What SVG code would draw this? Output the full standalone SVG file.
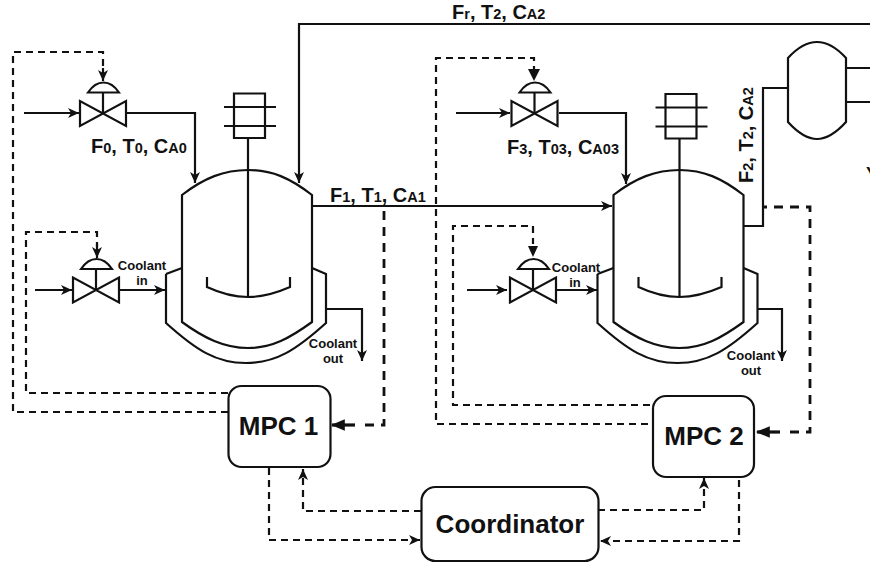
<svg xmlns="http://www.w3.org/2000/svg" width="870" height="569" viewBox="0 0 870 569">
<style>
text{font-family:"Liberation Sans",Arial,sans-serif;font-weight:700;fill:#111}
.lab{font-size:20px}
.sub{font-size:14.500px}
.cool{font-size:13px;text-anchor:middle}
.big{font-size:26px;text-anchor:middle}
.s{fill:none;stroke:#111;stroke-width:2.2}
.th{fill:none;stroke:#111;stroke-width:3.2}
.w{fill:#fff;stroke:#111;stroke-width:2.2}
.d{fill:none;stroke:#111;stroke-width:2.2;stroke-dasharray:7 5}
.d2{fill:none;stroke:#111;stroke-width:2.8;stroke-dasharray:9 7}
.ar{fill:#111;stroke:none}
</style>
<defs>
<marker id="a" viewBox="0 0 12 10" refX="11" refY="5" markerWidth="12" markerHeight="10" markerUnits="userSpaceOnUse" orient="auto"><path d="M0 0L11 5L0 10L3 5Z" fill="#111"/></marker>
<marker id="b" viewBox="0 0 12 10" refX="11" refY="5" markerWidth="14" markerHeight="12" markerUnits="userSpaceOnUse" orient="auto"><path d="M0 0L12 5L0 10Z" fill="#111"/></marker>
<g id="valve"><path class="w" d="M-23 -12.500V12.500L23 -12.500V12.500Z"/><path class="s" d="M0 0V-21M-15 -21H16C12 -27 6 -31 .5 -31C-5 -31 -11 -27 -15 -21Z"/></g>
<g id="reactor"><path class="s" d="M-16 104V153C14 180 34 193 64 193C94 193 114 180 144 153V104L130 98"/><path class="s" d="M-16 104L0 98"/><path class="s" d="M0 25V152C22 168 42 178 66 178C90 178 108 168 130 152V25C108 8 90 0 66 0C42 0 22 8 0 25Z"/><path class="s" d="M66 -32V127M25 107V117C40 124 52 127 66 127C80 127 92 124 108 117V107"/></g>
<g id="motor"><path class="s" d="M0 0H31V44.500H0ZM-10 13.500H42M-10 32.500H42"/></g>
</defs>
<rect width="870" height="569" fill="#fff"/>
<g id="connectors">
<path class="s" marker-end="url(#a)" d="M870 24H299V183"/>
<path class="s" marker-end="url(#a)" d="M24 113H79"/>
<path class="s" marker-end="url(#a)" d="M127 113H195V183"/>
<path class="s" marker-end="url(#a)" d="M35 290H72"/>
<path class="s" marker-end="url(#a)" d="M120 290H165"/>
<path class="s" marker-end="url(#a)" d="M312 206H612"/>
<path class="s" marker-end="url(#a)" d="M326 309H362V361"/>
<path class="s" marker-end="url(#a)" d="M456 113H510"/>
<path class="s" marker-end="url(#a)" d="M559 113H626V184"/>
<path class="s" marker-end="url(#a)" d="M467 290H507"/>
<path class="s" marker-end="url(#a)" d="M557 290H597"/>
<path class="s" marker-end="url(#a)" d="M758 309H782V361"/>
<path class="s" d="M744 226H763V88H788"/>
<path class="s" d="M846 68H870M846 102H870"/>
<path class="d" d="M228 412H13V52H103V70"/><path class="s" marker-end="url(#a)" d="M103 68V81"/>
<path class="d" d="M228 393H26V232H97V246"/><path class="s" marker-end="url(#a)" d="M97 244V258"/>
<path class="d2" d="M365 425H384V209"/><path class="th" marker-end="url(#b)" d="M355 425H332"/>
<path class="d" d="M648 424H436V58H534V70"/><path class="ar" d="M528 69H540L534 81Z"/>
<path class="d" d="M650 405H453V226H533V244"/><path class="ar" d="M528 246H538L533 257Z"/>
<path class="d2" d="M790 432H810V207H764"/><path class="th" marker-end="url(#b)" d="M780 432H757"/>
<path class="d" marker-end="url(#a)" d="M269 468V540H420"/>
<path class="d" marker-end="url(#a)" d="M421 511H303V469"/>
<path class="d" marker-end="url(#a)" d="M598 510H704V478"/>
<path class="d" marker-end="url(#a)" d="M739 480V541H600"/>
</g>
<g id="reactor-1"><use href="#reactor" x="182" y="170"/></g>
<g id="motor-1"><use href="#motor" x="234" y="93.500"/></g>
<g id="reactor-2"><use href="#reactor" x="613.500" y="170"/></g>
<g id="motor-2"><use href="#motor" x="665.500" y="94"/></g>
<g id="valve-1"><use href="#valve" x="103" y="113.500"/></g>
<g id="valve-2"><use href="#valve" x="96" y="290"/></g>
<g id="valve-3"><use href="#valve" x="534.500" y="113.500"/></g>
<g id="valve-4"><use href="#valve" x="533" y="290"/></g>
<g id="tank"><path class="s" d="M788 58C798 47 807 42 817 42C827 42 836 47 846 58V122C836 133 827 139 817 139C807 139 798 133 788 122Z"/></g>
<g id="mpc-1"><rect class="s" x="228.500" y="386" width="102" height="81" rx="13"/><text class="big" x="278.500" y="435">MPC 1</text></g>
<g id="mpc-2"><rect class="s" x="653" y="396" width="101" height="81" rx="13"/><text class="big" x="704" y="445">MPC 2</text></g>
<g id="coordinator"><rect class="s" x="421.500" y="487" width="177" height="74" rx="14"/><text class="big" x="510" y="533">Coordinator</text></g>
<g id="labels">
<text class="lab" x="91" y="152.500">F<tspan class="sub">0</tspan>, T<tspan class="sub">0</tspan>, C<tspan class="sub">A0</tspan></text>
<text class="lab" x="330" y="202">F<tspan class="sub">1</tspan>, T<tspan class="sub">1</tspan>, C<tspan class="sub">A1</tspan></text>
<text class="lab" x="452" y="19">F<tspan class="sub">r</tspan>, T<tspan class="sub">2</tspan>, C<tspan class="sub">A2</tspan></text>
<text class="lab" x="507" y="153.500">F<tspan class="sub">3</tspan>, T<tspan class="sub">03</tspan>, C<tspan class="sub">A03</tspan></text>
<text class="lab" transform="translate(753 183) rotate(-90)">F<tspan class="sub">2</tspan>, T<tspan class="sub">2</tspan>, C<tspan class="sub">A2</tspan></text>
<text class="cool" x="142" y="270">Coolant</text><text class="cool" x="142" y="285">in</text>
<text class="cool" x="333" y="348">Coolant</text><text class="cool" x="333" y="363">out</text>
<text class="cool" x="576" y="272">Coolant</text><text class="cool" x="575" y="287">in</text>
<text class="cool" x="751" y="360">Coolant</text><text class="cool" x="751" y="375">out</text>
<text x="866" y="180" font-size="18">Y</text>
</g>
</svg>
